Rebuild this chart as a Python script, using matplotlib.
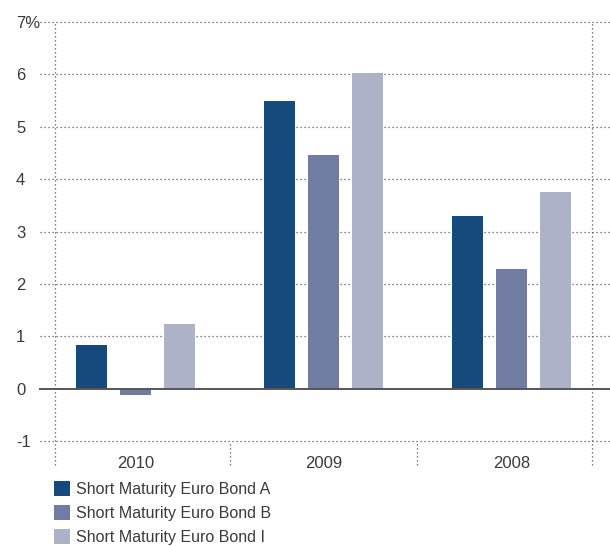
import numpy as np
import matplotlib.pyplot as plt
from matplotlib.patches import Patch

years = ["2010", "2009", "2008"]
series_names = ["Short Maturity Euro Bond A", "Short Maturity Euro Bond B", "Short Maturity Euro Bond I"]
bond_a = [0.84, 5.50, 3.30]
bond_b = [-0.12, 4.47, 2.29]
bond_i = [1.24, 6.03, 3.76]
y_ticks = [-1, 0, 1, 2, 3, 4, 5, 6, 7]
y_labels = ["-1", "0", "1", "2", "3", "4", "5", "6", "7%"]
colors = ["#174a7c", "#707ca2", "#adb2c9"]

plt.rcParams['font.family'] = ['Liberation Sans Narrow', 'Liberation Sans', 'DejaVu Sans']
text_color = "#3a3a3a"
dot = (0, (1, 2.2))

fig = plt.figure(figsize=(6.1, 5.46), dpi=100)
ax = fig.add_axes([55 / 610, 1 - 441 / 546, 537 / 610, 419 / 546])

x = np.arange(len(years))
offsets = [-0.234, 0.0, 0.234]
for vals, off, col in zip([bond_a, bond_b, bond_i], offsets, colors):
    ax.bar(x + off, vals, width=0.165, color=col, zorder=3)

ax.set_xlim(-0.43, 2.43)
ax.set_ylim(-1, 7)

# horizontal dotted grid reaching past the plot box
xmin, xmax = -15 / 537, 1 + 18 / 537
for t in y_ticks:
    if t == 0:
        ax.axhline(0, xmin=xmin, xmax=xmax, color="#555555", lw=1.4, clip_on=False, zorder=4)
    else:
        ax.axhline(t, xmin=xmin, xmax=xmax, color="#555555", lw=0.9, ls=dot, clip_on=False, zorder=1)

# vertical dotted lines: box edges and group separators below the axis
ext = -24 / 419
for xv in ax.get_xlim():
    ax.axvline(xv, ymin=ext, ymax=1, color="#555555", lw=0.9, ls=dot, clip_on=False, zorder=1)
for sep in [0.5, 1.5]:
    ax.axvline(sep, ymin=ext, ymax=0, color="#555555", lw=0.9, ls=dot, clip_on=False, zorder=1)

for s in ax.spines.values():
    s.set_visible(False)

ax.set_yticks(y_ticks)
ax.set_yticklabels(y_labels, ha="left", fontsize=12, color=text_color)
ax.tick_params(axis="y", length=0, pad=39 * 0.72)
ax.set_xticks(x)
ax.set_xticklabels(years, fontsize=12, color=text_color)
ax.tick_params(axis="x", length=0, pad=11)

handles = [Patch(facecolor=c, edgecolor="none") for c in colors]
fig.legend(handles, series_names, loc="upper left", bbox_to_anchor=(54 / 610, 1 - 481 / 546),
           frameon=False, fontsize=11.5, labelcolor=text_color, handlelength=1.0, handleheight=1.1,
           handletextpad=0.4, labelspacing=0.48, borderaxespad=0, borderpad=0)

fig.savefig("out.png", dpi=100)
